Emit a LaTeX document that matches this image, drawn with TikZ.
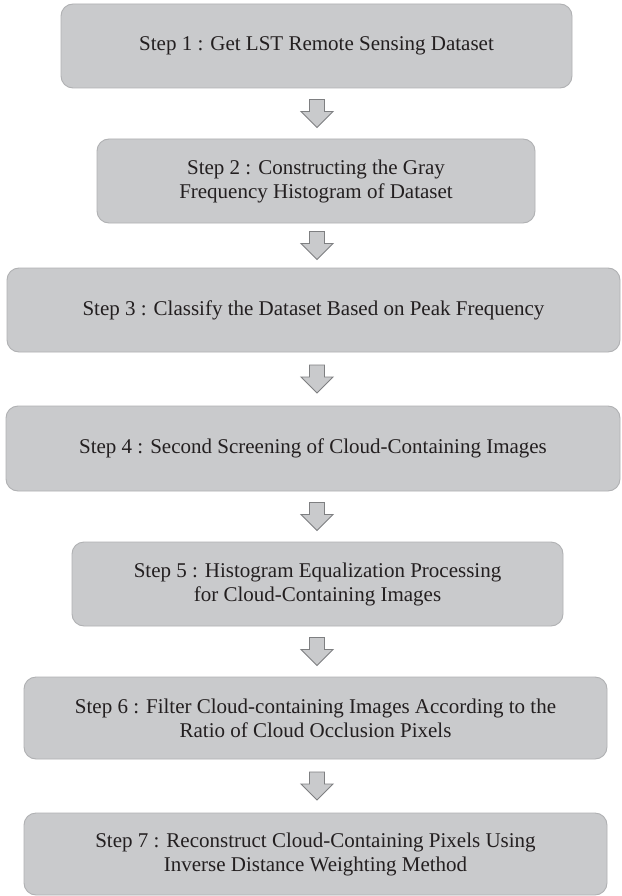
\documentclass[tikz,border=0pt]{standalone}
\usepackage{fontspec}
\setmainfont{Liberation Serif}
\usetikzlibrary{calc}
\definecolor{boxfill}{HTML}{C9CACC}
\definecolor{boxline}{HTML}{B0B1B3}
\definecolor{arrline}{HTML}{7E7F81}
\definecolor{txt}{HTML}{231F20}
\begin{document}
\begin{tikzpicture}[x=1pt,y=1pt,
  stepbox/.style={draw=boxline, line width=0.9pt, fill=boxfill, rounded corners=12pt,
    align=center, text=txt, inner sep=0pt,
    font=\fontsize{21}{24}\selectfont},
  blockarrow/.style={draw=arrline, line width=0.9pt, fill=boxfill, line join=miter}]
\useasboundingbox[fill=white] (0,0) rectangle (621,-896);
\node[stepbox, minimum width=511pt, minimum height=84pt] (s1) at (316.5,-46) {Step 1 : Get LST Remote Sensing Dataset};
\node[stepbox, minimum width=438pt, minimum height=84pt] (s2) at (316,-181) {Step 2 : Constructing the Gray\\Frequency Histogram of Dataset};
\node[stepbox, minimum width=613pt, minimum height=84pt] (s3) at (313.5,-310) {Step 3 : Classify the Dataset Based on Peak Frequency};
\node[stepbox, minimum width=614pt, minimum height=85pt] (s4) at (313,-448.5) {Step 4 : Second Screening of Cloud-Containing Images};
\node[stepbox, minimum width=491pt, minimum height=84pt] (s5) at (317.5,-584) {Step 5 : Histogram Equalization Processing\\for Cloud-Containing Images};
\node[stepbox, minimum width=583pt, minimum height=82pt] (s6) at (315.5,-718) {Step 6 : Filter Cloud-containing Images According to the\\Ratio of Cloud Occlusion Pixels};
\node[stepbox, minimum width=583pt, minimum height=82pt] (s7) at (315.5,-854) {Step 7 : Reconstruct Cloud-Containing Pixels Using\\Inverse Distance Weighting Method};
\coordinate (xref) at (317,0);
\foreach \a/\b in {s1/s2,s2/s3,s3/s4,s4/s5,s5/s6,s6/s7}{
  \coordinate (m-\a) at ($(\a.south)!0.5!(\b.north)$);
  \draw[blockarrow] (m-\a -| xref) ++(-7.5,14) -- ++(15,0) -- ++(0,-12) -- ++(8.5,0)
    -- ++(-16,-16) -- ++(-16,16) -- ++(8.5,0) -- cycle;
}
\end{tikzpicture}
\end{document}
